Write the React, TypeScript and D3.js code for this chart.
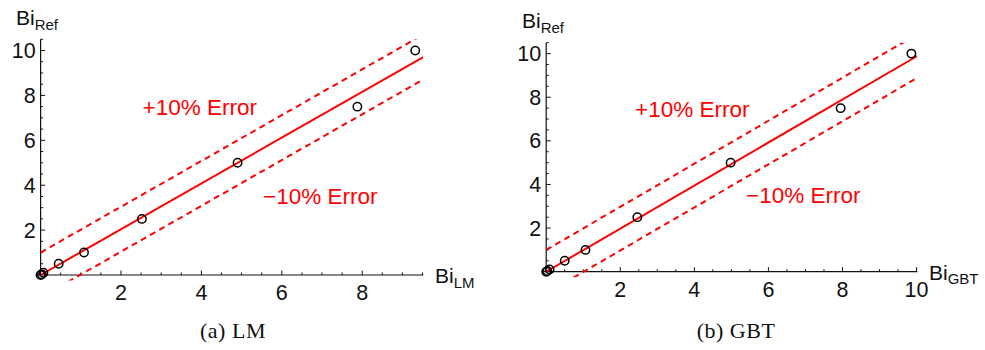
import React from 'react';
import * as d3 from 'd3';

// values
const lmPredicted = [0.0, 0.03, 0.07, 0.45, 1.08, 2.52, 4.9, 7.88, 9.32];
const lmReference = [0.0, 0.03, 0.1, 0.5, 1.0, 2.5, 5.0, 7.5, 10.0];
const gbtPredicted = [0.0, 0.03, 0.09, 0.5, 1.06, 2.46, 4.98, 7.95, 9.86];
const gbtReference = [0.0, 0.03, 0.1, 0.5, 1.0, 2.5, 5.0, 7.5, 10.0];

const fitSlopes = [1.02, 0.987];
const errorOffsets = [1, -1];
const errorLabels = ['+10% Error', '\u221210% Error'];

const lmXTicks = [2, 4, 6, 8];
const gbtXTicks = [2, 4, 6, 8, 10];
const yTicks = [2, 4, 6, 8, 10];

const captions = ['(a) LM', '(b) GBT'];

const RED = '#ff0000';
const SANS = '"Liberation Sans", Arial, sans-serif';

type PanelProps = {
  xs: number[];
  ys: number[];
  slope: number;
  xMax: number;
  xTicks: number[];
  xRange: [number, number];
  yRange: [number, number];
  sub: string;
  caption: string;
  captionX: number;
  errorPos: [number, number][];
  xLabelX: number;
  yLabelX: number;
  yLabelY: number;
};

function Panel(p: PanelProps) {
  const yMin = -0.25;
  const yMax = 10.5;
  const x = d3.scaleLinear().domain([0, p.xMax]).range(p.xRange);
  const y = d3.scaleLinear().domain([0, yMax]).range(p.yRange);
  const clipId = 'clip-' + p.sub;

  const ends = [0, p.xMax];
  const xMinor = d3.range(0.5, p.xMax + 0.01, 0.5).filter((v) => v % 2 !== 0);
  const yMinor = d3.range(0.5, yMax + 0.01, 0.5).filter((v) => v % 2 !== 0);
  const x0 = x(0);
  const y0 = y(0);

  const bandLine = (offset: number) =>
    d3
      .line<number>()
      .x((d) => x(d))
      .y((d) => y(d * p.slope + offset))(ends) ?? '';

  return (
    <g>
      <defs>
        <clipPath id={clipId}>
          <rect x={x(0)} y={y(yMax)} width={x(p.xMax) - x(0)} height={y(yMin) - y(yMax)} />
        </clipPath>
      </defs>

      {/* axes */}
      <line x1={x(-0.12)} x2={x(p.xMax)} y1={y0} y2={y0} stroke="#111" strokeWidth={1.2} />
      <line x1={x0} x2={x0} y1={y(yMax)} y2={y0} stroke="#111" strokeWidth={1.2} />
      {p.xTicks.map((t) => (
        <g key={'xt' + t}>
          <line x1={x(t)} x2={x(t)} y1={y0} y2={y0 - 4.5} stroke="#111" strokeWidth={1} />
          <text x={x(t)} y={y0 + 25} textAnchor="middle" fontFamily={SANS} fontSize={21.5} fill="#111">
            {t}
          </text>
        </g>
      ))}
      {xMinor.map((t) => (
        <line key={'xm' + t} x1={x(t)} x2={x(t)} y1={y0} y2={y0 - 2.5} stroke="#111" strokeWidth={1} />
      ))}
      {yTicks.map((t) => (
        <g key={'yt' + t}>
          <line x1={x0} x2={x0 + 4.5} y1={y(t)} y2={y(t)} stroke="#111" strokeWidth={1} />
          <text x={x0 - 5} y={y(t) + 7.5} textAnchor="end" fontFamily={SANS} fontSize={21.5} fill="#111">
            {t}
          </text>
        </g>
      ))}
      {yMinor.map((t) => (
        <line key={'ym' + t} x1={x0} x2={x0 + 2.5} y1={y(t)} y2={y(t)} stroke="#111" strokeWidth={1} />
      ))}

      {/* axis labels */}
      <text x={p.yLabelX} y={p.yLabelY} fontFamily={SANS} fontSize={21} fill="#111">
        Bi
        <tspan fontSize={15} dy={5}>Ref</tspan>
      </text>
      <text x={p.xLabelX} y={y0 + 8} fontFamily={SANS} fontSize={21} fill="#111">
        Bi
        <tspan fontSize={15} dy={4.5}>{p.sub}</tspan>
      </text>

      {/* fit line and error bands */}
      <g clipPath={`url(#${clipId})`}>
        <path d={bandLine(0)} fill="none" stroke={RED} strokeWidth={2} />
        {errorOffsets.map((o) => (
          <path
            key={'e' + o}
            d={bandLine(o)}
            fill="none"
            stroke={RED}
            strokeWidth={2}
            strokeDasharray="6,4.5"
          />
        ))}
      </g>

      {errorLabels.map((t, i) => (
        <text key={t} x={p.errorPos[i][0]} y={p.errorPos[i][1]} fontFamily={SANS} fontSize={22.5} fill={RED}>
          {t}
        </text>
      ))}

      {/* data points */}
      {p.xs.map((v, i) => (
        <circle key={'pt' + i} cx={x(v)} cy={y(p.ys[i])} r={4.2} fill="none" stroke="#000" strokeWidth={1.5} />
      ))}

      <text
        x={p.captionX}
        y={338}
        textAnchor="middle"
        fontFamily='"Liberation Serif", "Times New Roman", serif'
        fontSize={22}
        letterSpacing={0.5}
        fill="#111"
      >
        {p.caption}
      </text>
    </g>
  );
}

export default function App() {
  return (
    <svg
      width={985}
      height={350}
      style={{ position: 'absolute', left: 0, top: 0, background: '#fff' }}
    >
      <Panel
        xs={lmPredicted}
        ys={lmReference}
        slope={fitSlopes[0]}
        xMax={9.52}
        xTicks={lmXTicks}
        xRange={[40.6, 423.3]}
        yRange={[275, 39.3]}
        sub="LM"
        caption={captions[0]}
        captionX={233}
        errorPos={[
          [142.5, 115],
          [263, 204],
        ]}
        xLabelX={435}
        yLabelX={16}
        yLabelY={25}
      />
      <Panel
        xs={gbtPredicted}
        ys={gbtReference}
        slope={fitSlopes[1]}
        xMax={10.02}
        xTicks={gbtXTicks}
        xRange={[546.2, 917.3]}
        yRange={[271.7, 42.7]}
        sub="GBT"
        caption={captions[1]}
        captionX={736}
        errorPos={[
          [635, 117],
          [746, 203],
        ]}
        xLabelX={929}
        yLabelX={522}
        yLabelY={28}
      />
    </svg>
  );
}
